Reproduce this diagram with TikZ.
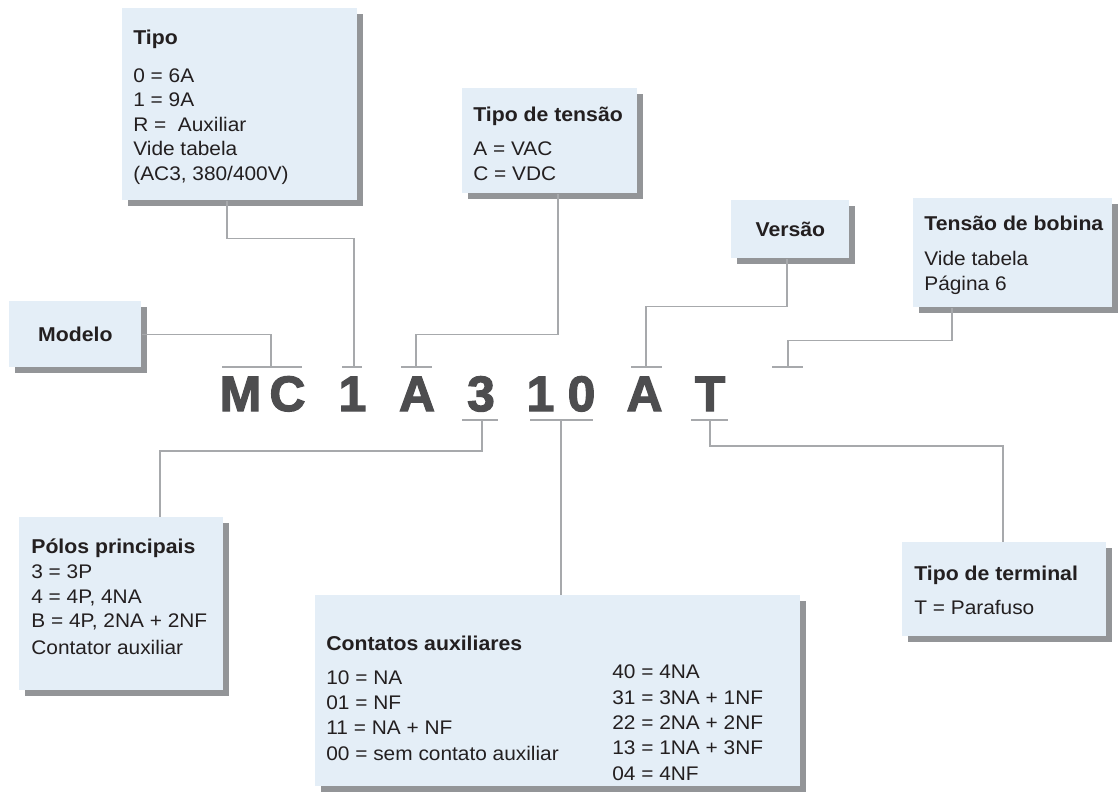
\documentclass[tikz,border=0pt]{standalone}
\usepackage{fontspec}
\setmainfont{Liberation Sans}[FakeStretch=1.06]
\newfontfamily\codefont{Liberation Sans}[BoldFeatures={FakeBold=2.5}]
\usepackage{xcolor}
\usepackage{tikz}
\usetikzlibrary{shadows}

\definecolor{boxblue}{HTML}{E4EEF7}
\definecolor{boxshade}{HTML}{939598}
\definecolor{linegray}{HTML}{A7A9AC}
\definecolor{ink}{HTML}{231F20}
\definecolor{codegray}{HTML}{4D4D4F}

\newcommand{\titlefont}{\fontsize{11.4}{13.9}\selectfont\bfseries}

% text nodes are placed at the baseline of their last line
\tikzset{
  infobox/.style={rectangle, fill=boxblue, inner sep=0pt, anchor=north west,
    drop shadow={shadow xshift=0.12cm, shadow yshift=-0.12cm, fill=boxshade, opacity=1}},
  boxtext/.style={anchor=base west, inner sep=0pt, align=left, text=ink,
    font=\fontsize{11.2}{13.9}\selectfont},
  codechar/.style={anchor=base, inner sep=0pt, text=codegray,
    font=\codefont\fontsize{28.3}{30}\selectfont\bfseries},
  link/.style={draw=linegray, line width=0.75pt},
}

\begin{document}
\begin{tikzpicture}[x=0.02cm, y=-0.02cm]
\useasboundingbox (0,0) rectangle (1118,794);

% boxes
\node (modelo) at (9,301) [infobox, minimum width=2.64cm, minimum height=1.32cm, text=ink, font=\titlefont] {Modelo};

\node (tipo) at (122,8) [infobox, minimum width=4.70cm, minimum height=3.84cm] {};
\node (tipotxt) at (133,180) [boxtext] {{\titlefont Tipo}\\[7.6pt] 0 = 6A\\ 1 = 9A\\ R = ~Auxiliar\\ Vide tabela\\ (AC3, 380/400V)};

\node (tensao) at (462,88) [infobox, minimum width=3.50cm, minimum height=2.10cm] {};
\node (tensaotxt) at (473,180) [boxtext] {{\titlefont Tipo de tensão}\\[5.4pt] A = VAC\\ C = VDC};

\node (versao) at (731,200) [infobox, minimum width=2.36cm, minimum height=1.16cm, text=ink, font=\titlefont] {Versão};

\node (bobina) at (913,198) [infobox, minimum width=3.98cm, minimum height=2.18cm] {};
\node (bobinatxt) at (924,290) [boxtext] {{\titlefont Tensão de bobina}\\[5.9pt] Vide tabela\\ Página 6};

\node (polos) at (19,517) [infobox, minimum width=4.08cm, minimum height=3.46cm] {};
\node (polostxt) at (31,654) [boxtext] {{\titlefont Pólos principais}\\[0.7pt] 3 = 3P\\ 4 = 4P, 4NA\\ B = 4P, 2NA + 2NF\\[1pt] Contator auxiliar};

\node (contatos) at (315,595) [infobox, minimum width=9.70cm, minimum height=3.82cm] {};
\node (contatostit) at (326,650) [boxtext, font=\titlefont] {Contatos auxiliares};
\node (contatosA) at (326,760) [boxtext, font=\fontsize{11.2}{14.4}\selectfont] {10 = NA\\ 01 = NF\\ 11 = NA + NF\\ 00 = sem contato auxiliar};
\node (contatosB) at (612,780) [boxtext, font=\fontsize{11.2}{14.4}\selectfont] {40 = 4NA\\ 31 = 3NA + 1NF\\ 22 = 2NA + 2NF\\ 13 = 1NA + 3NF\\ 04 = 4NF};

\node (terminal) at (902,542) [infobox, minimum width=4.08cm, minimum height=1.88cm] {};
\node (terminaltxt) at (914,614) [boxtext] {{\titlefont Tipo de terminal}\\[5.4pt] T = Parafuso};

% code letters
\node (cM) at (240.5,411) [codechar] {M};
\node (cC) at (287.5,411) [codechar] {C};
\node (c1) at (352.5,411) [codechar] {1};
\node (cA) at (417,411) [codechar] {A};
\node (c3) at (481,411) [codechar] {3};
\node (c1b) at (540.5,411) [codechar] {1};
\node (c0) at (581.5,411) [codechar] {0};
\node (cA2) at (644.5,411) [codechar] {A};
\node (cT) at (710,411) [codechar] {T};

% tick points
\coordinate (tMC) at (271,367);
\coordinate (t1) at (354,367);
\coordinate (tA) at (416,367);
\coordinate (tV) at (646,367);
\coordinate (tB) at (788,367);
\coordinate (b3) at (482,420);
\coordinate (b10) at (561,420);
\coordinate (bT) at (710,420);

% ticks
\draw[link] ([xshift=-0.98cm]tMC) -- ([xshift=0.62cm]tMC);
\draw[link] ([xshift=-0.24cm]t1) -- ([xshift=0.16cm]t1);
\draw[link] ([xshift=-0.30cm]tA) -- ([xshift=0.32cm]tA);
\draw[link] ([xshift=-0.30cm]tV) -- ([xshift=0.32cm]tV);
\draw[link] ([xshift=-0.32cm]tB) -- ([xshift=0.30cm]tB);
\draw[link] ([xshift=-0.40cm]b3) -- ([xshift=0.32cm]b3);
\draw[link] ([xshift=-0.62cm]b10) -- ([xshift=0.64cm]b10);
\draw[link] ([xshift=-0.38cm]bT) -- ([xshift=0.36cm]bT);

% connectors
\draw[link] (modelo.east) -| (tMC);
\draw[link] ([xshift=2.10cm]tipo.south west) -- ++(0,38) -| (t1);
\draw[link] ([xshift=1.92cm]tensao.south west) -- ++(0,141) -| (tA);
\draw[link] ([xshift=1.12cm]versao.south west) -- ++(0,48) -| (tV);
\draw[link] ([xshift=0.78cm]bobina.south west) -- ++(0,33) -| (tB);
\draw[link] (b3) -- ++(0,31) -| ([xshift=2.82cm]polos.north west);
\draw[link] (b10) -- (b10 |- contatos.north);
\draw[link] (bT) -- ++(0,26) -| ([xshift=2.02cm]terminal.north west);
\end{tikzpicture}
\end{document}
